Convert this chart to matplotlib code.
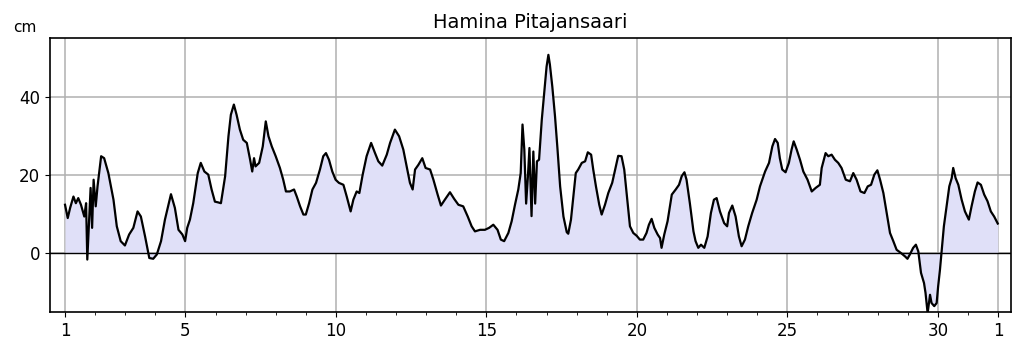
#!/usr/bin/env python3
"""Hamina Pitajansaari sea level plot (cm vs. day of month)"""
import matplotlib
matplotlib.use('Agg')
import matplotlib.pyplot as plt
from matplotlib.ticker import FixedLocator, MultipleLocator

station = 'Hamina Pitajansaari'

# time in days (1 = first day of month, 32 = first day of next month)
days = [
    1.00, 1.09, 1.17, 1.28, 1.36, 1.44, 1.53, 1.64, 1.70, 1.74, 1.81, 1.85, 1.90, 1.95,
    2.02, 2.08, 2.20, 2.30, 2.44, 2.61, 2.72, 2.85, 2.99, 3.13, 3.27, 3.41, 3.52, 3.66,
    3.80, 3.93, 4.05, 4.19, 4.32, 4.52, 4.65, 4.77, 4.90, 4.99, 5.06, 5.15, 5.26, 5.41,
    5.51, 5.63, 5.76, 5.87, 5.98, 6.09, 6.18, 6.32, 6.43, 6.51, 6.61, 6.70, 6.81, 6.92,
    7.04, 7.15, 7.22, 7.28, 7.33, 7.45, 7.57, 7.67, 7.76, 7.87, 8.00, 8.14, 8.25, 8.34,
    8.47, 8.61, 8.70, 8.81, 8.92, 9.00, 9.11, 9.22, 9.34, 9.47, 9.58, 9.67, 9.77, 9.88,
    9.99, 10.10, 10.25, 10.36, 10.49, 10.58, 10.69, 10.78, 10.89, 11.02, 11.17, 11.30,
    11.41, 11.54, 11.69, 11.80, 11.96, 12.10, 12.24, 12.35, 12.46, 12.55, 12.63, 12.74,
    12.87, 12.98, 13.13, 13.24, 13.38, 13.49, 13.62, 13.79, 13.93, 14.07, 14.23, 14.38,
    14.51, 14.62, 14.79, 14.95, 15.09, 15.23, 15.37, 15.48, 15.59, 15.73, 15.84, 15.95,
    16.06, 16.14, 16.20, 16.26, 16.32, 16.38, 16.43, 16.50, 16.56, 16.62, 16.68, 16.75,
    16.84, 16.93, 17.00, 17.06, 17.11, 17.19, 17.28, 17.36, 17.45, 17.56, 17.67, 17.72,
    17.81, 17.89, 17.97, 18.05, 18.17, 18.28, 18.37, 18.48, 18.55, 18.64, 18.75, 18.83,
    18.94, 19.05, 19.18, 19.30, 19.38, 19.49, 19.58, 19.68, 19.77, 19.88, 19.99, 20.10,
    20.21, 20.32, 20.40, 20.49, 20.58, 20.69, 20.77, 20.82, 20.91, 21.02, 21.16, 21.29,
    21.40, 21.49, 21.58, 21.65, 21.76, 21.88, 21.95, 22.04, 22.13, 22.24, 22.35, 22.46,
    22.56, 22.65, 22.76, 22.90, 23.00, 23.06, 23.17, 23.28, 23.39, 23.48, 23.59, 23.70,
    23.83, 23.98, 24.09, 24.26, 24.39, 24.50, 24.59, 24.68, 24.75, 24.83, 24.94, 25.05,
    25.14, 25.21, 25.31, 25.42, 25.53, 25.67, 25.81, 25.94, 26.08, 26.14, 26.27, 26.36,
    26.47, 26.58, 26.69, 26.80, 26.94, 27.08, 27.19, 27.30, 27.43, 27.56, 27.67, 27.78,
    27.89, 27.99, 28.08, 28.19, 28.30, 28.41, 28.52, 28.63, 28.77, 28.91, 28.99, 29.07,
    29.18, 29.27, 29.35, 29.44, 29.54, 29.59, 29.66, 29.74, 29.79, 29.88, 29.96, 30.01,
    30.07, 30.12, 30.20, 30.29, 30.38, 30.46, 30.51, 30.59, 30.68, 30.79, 30.90, 31.03,
    31.12, 31.23, 31.32, 31.43, 31.54, 31.65, 31.76, 31.87, 31.99,
]

# sea level, cm
level_cm = [
    12.4, 9.0, 11.6, 14.5, 12.8, 14.1, 12.4, 9.4, 12.8, -1.6, 10.3, 16.7, 6.5, 18.8,
    12.0, 17.1, 24.8, 24.3, 20.5, 13.7, 6.9, 3.1, 2.0, 4.8, 6.5, 10.7, 9.4, 4.3,
    -1.2, -1.4, -0.3, 3.1, 8.6, 15.1, 11.6, 6.0, 4.8, 3.1, 6.5, 8.6, 12.8, 20.5,
    23.1, 20.9, 20.1, 16.3, 13.2, 13.0, 12.8, 19.7, 29.9, 35.4, 38.0, 35.4, 31.6, 29.0,
    28.2, 23.9, 20.9, 24.3, 22.2, 23.1, 27.3, 33.7, 29.9, 27.3, 24.8, 21.8, 18.8, 15.8,
    15.8, 16.3, 14.5, 12.0, 9.9, 9.9, 12.8, 16.3, 18.0, 21.4, 24.8, 25.6, 23.9, 20.9,
    18.8, 18.0, 17.5, 14.5, 10.7, 13.7, 15.8, 15.4, 20.1, 24.8, 28.2, 25.6,
    23.5, 22.4, 25.2, 28.2, 31.6, 29.9, 26.5, 22.2, 18.0, 16.3, 21.4, 22.6,
    24.3, 21.8, 21.4, 18.8, 15.0, 12.2, 13.7, 15.6, 13.9, 12.4, 12.0, 9.4,
    6.9, 5.6, 6.0, 6.0, 6.5, 7.3, 6.0, 3.5, 3.1, 5.2, 8.2, 12.4,
    16.3, 20.5, 32.9, 26.5, 12.7, 19.7, 26.9, 9.5, 26.0, 12.7, 23.5, 23.9,
    34.1, 41.8, 47.7, 50.7, 48.2, 42.6, 35.0, 26.9, 17.1, 9.4, 5.4, 5.0,
    8.6, 14.6, 20.5, 21.4, 23.1, 23.5, 25.8, 25.2, 21.4, 17.1, 12.4, 9.9,
    12.4, 15.4, 18.0, 22.2, 24.9, 24.8, 21.4, 13.7, 6.9, 5.2, 4.5, 3.5,
    3.5, 5.2, 7.3, 8.8, 6.5, 4.8, 3.9, 1.4, 4.8, 8.2, 15.0, 16.3,
    17.5, 19.7, 20.7, 18.8, 12.8, 5.6, 3.1, 1.4, 2.2, 1.4, 4.3, 10.3,
    13.7, 14.1, 10.7, 7.7, 6.9, 10.3, 12.2, 9.4, 4.3, 1.8, 3.5, 6.9,
    10.3, 13.7, 17.1, 20.9, 23.1, 27.3, 29.2, 28.2, 24.3, 21.4, 20.7, 23.1,
    26.5, 28.6, 26.5, 23.9, 20.9, 18.8, 15.8, 16.7, 17.5, 21.8, 25.6, 24.8,
    25.2, 23.9, 23.1, 21.8, 18.8, 18.4, 20.5, 18.8, 15.8, 15.4, 17.1, 17.5,
    20.1, 21.2, 18.8, 15.4, 10.3, 5.2, 3.1, 0.9, 0.1, -0.8, -1.4, -0.3,
    1.4, 2.2, 0.5, -5.0, -7.6, -10.1, -15.3, -10.6, -12.7, -13.5, -12.7, -8.4,
    -4.2, 0.1, 6.9, 12.0, 17.1, 19.2, 21.8, 19.2, 17.5, 13.7, 10.7, 8.6,
    12.0, 15.8, 18.1, 17.5, 15.0, 13.3, 10.7, 9.4, 7.6,
]

tick_days = [1, 5, 10, 15, 20, 25, 30, 32]
tick_labels = ['1', '5', '10', '15', '20', '25', '30', '1']
y_ticks = [0, 20, 40]

fig = plt.figure(figsize=(10.24, 3.52), dpi=100)
ax = fig.add_axes([0.0488, 0.1136, 0.9385, 0.7784])

# 填充 + 曲线
ax.fill_between(days, level_cm, 0, color='#e0e0f8', linewidth=0)
ax.plot(days, level_cm, color='black', linewidth=1.6)
ax.axhline(0, color='black', linewidth=1.0, zorder=3)

ax.set_xlim(0.5, 32.43)
ax.set_ylim(-15, 55)

ax.xaxis.set_major_locator(FixedLocator(tick_days))
ax.set_xticklabels(tick_labels)
ax.xaxis.set_minor_locator(MultipleLocator(1))
ax.set_yticks(y_ticks)
ax.tick_params(labelsize=12)

ax.grid(True, which='major', color='#b0b0b0', linewidth=1.1)
ax.set_axisbelow(True)
for sp in ax.spines.values():
    sp.set_linewidth(1.2)

ax.set_title(station, fontsize=14, pad=7)
fig.text(0.0245, 0.922, 'cm', ha='center', va='center', fontsize=11)

fig.savefig('out.png', dpi=100, facecolor='white')
plt.close(fig)
